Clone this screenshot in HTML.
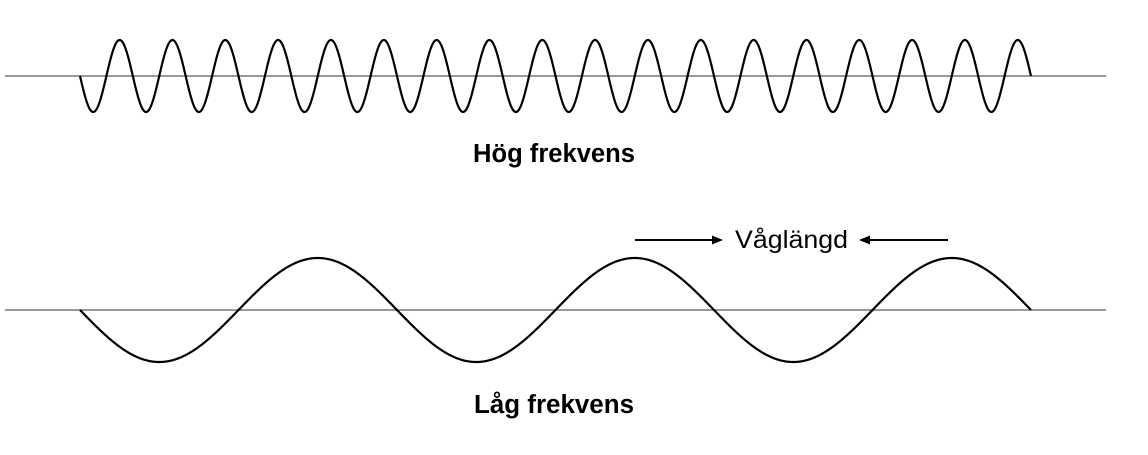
<!DOCTYPE html>
<html><head><meta charset="utf-8"><style>
html,body{margin:0;padding:0;background:#fff;width:1148px;height:455px;overflow:hidden}
svg{display:block}
text{font-family:"Liberation Sans",Arial,sans-serif}
</style></head><body>
<svg id="s" width="1148" height="455" viewBox="0 0 1148 455">
<line x1="5" y1="76" x2="1106" y2="76" stroke="#999" stroke-width="2"/>
<line x1="5" y1="310" x2="1106" y2="310" stroke="#999" stroke-width="2"/>
<path id="w1" fill="none" stroke="#000" stroke-width="2.2"/>
<path id="w2" fill="none" stroke="#000" stroke-width="2.2"/>
<text x="554" y="162" font-size="25.5" font-weight="bold" text-anchor="middle" textLength="162" lengthAdjust="spacingAndGlyphs">Hög frekvens</text>
<text x="554" y="413" font-size="25.5" font-weight="bold" text-anchor="middle" textLength="160" lengthAdjust="spacingAndGlyphs">Låg frekvens</text>
<line x1="635" y1="240" x2="714" y2="240" stroke="#000" stroke-width="2"/>
<polygon points="723,240 712,235.5 712,244.5" fill="#000"/>
<text x="735" y="248" font-size="25" textLength="113" lengthAdjust="spacingAndGlyphs">Våglängd</text>
<line x1="868" y1="240" x2="948" y2="240" stroke="#000" stroke-width="2"/>
<polygon points="859,240 870,235.5 870,244.5" fill="#000"/>
</svg>
<script>
function wave(id,x0,x1,cy,amp,periods){
 var d="",n=2000;
 for(var i=0;i<=n;i++){var x=x0+(x1-x0)*i/n;var y=cy+amp*Math.sin(2*Math.PI*periods*i/n);
 d+=(i?"L":"M")+x.toFixed(2)+" "+y.toFixed(2);}
 document.getElementById(id).setAttribute("d",d);
}
wave("w1",80,1031,76,36,18);
wave("w2",80,1031,310,52,3);
</script>
</body></html>
